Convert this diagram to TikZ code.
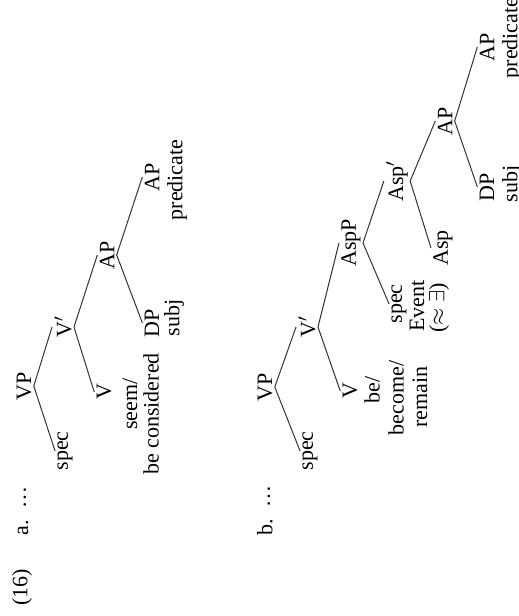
\documentclass[tikz,border=0pt]{standalone}
\usepackage{fontspec}
\setmainfont{Liberation Serif}
\usepackage{tikz}

\begin{document}
\begin{tikzpicture}[
    x=0.5pt, y=-0.5pt,
    font=\fontsize{11pt}{13pt}\selectfont,
    cat/.style={rotate=90, inner sep=1pt},
    branch/.style={draw=black!80, line width=0.5pt},
]
    \useasboundingbox (0,0) rectangle (519,616);
    \clip (0,0) rectangle (519,616);

    % Example number
    \node[cat] (exnum) at (22,587) {(16)};

    % Tree a: seem / be considered
    \node[cat] (alabel) at (23,528) {a.};
    \node[cat] (adots) at (25,497) {\dots};
    \node[cat] (avp) at (24,386) {VP};
    \node[cat] (aspec) at (65,451) {spec};
    \node[cat] (avbar) at (63,327) {V$'$};
    \node[cat] (av) at (104,392) {V};
    \node[cat] (aseem) at (130,404) {seem/};
    \node[cat] (abecons) at (151,414) {be considered};
    \node[cat] (aap) at (107,255) {AP};
    \node[cat] (adp) at (152,323) {DP};
    \node[cat] (asubj) at (174,318) {subj};
    \node[cat] (aappred) at (152,177) {AP};
    \node[cat] (apred) at (177,180) {predicate};

    % Tree b: be / become / remain
    \node[cat] (blabel) at (265,527) {b.};
    \node[cat] (bdots) at (269,496) {\dots};
    \node[cat] (bvp) at (265,387) {VP};
    \node[cat] (bspec) at (310,451) {spec};
    \node[cat] (bvbar) at (307,327) {V$'$};
    \node[cat] (bv) at (350,391) {V};
    \node[cat] (bbe) at (372,390) {be/};
    \node[cat] (bbecome) at (396,398) {become/};
    \node[cat] (bremain) at (420,397) {remain};
    \node[cat] (baspp) at (351,243) {AspP};
    \node[cat] (bspecev) at (399,304) {spec};
    \node[cat] (bevent) at (417,306) {Event};
    \node[cat] (bexists) at (439,308) {($\approx\exists$)};
    \node[cat] (baspbar) at (397,181) {Asp$'$};
    \node[cat] (basp) at (443,248) {Asp};
    \node[cat] (bap) at (445,121) {AP};
    \node[cat] (bdp) at (487,187) {DP};
    \node[cat] (bsubj) at (512,184) {subj};
    \node[cat] (bappred) at (487,47) {AP};
    \node[cat] (bpred) at (512,38) {predicate};

    % Branches of tree a
    \draw[branch] (avp.south) -- (aspec.north);
    \draw[branch] (avp.south) -- (avbar.north);
    \draw[branch] (avbar.south) -- (av.north);
    \draw[branch] (avbar.south) -- (aap.north);
    \draw[branch] (aap.south) -- (adp.north);
    \draw[branch] (aap.south) -- (aappred.north);

    % Branches of tree b
    \draw[branch] (bvp.south) -- (bspec.north);
    \draw[branch] (bvp.south) -- (bvbar.north);
    \draw[branch] (bvbar.south) -- (bv.north);
    \draw[branch] (bvbar.south) -- (baspp.north);
    \draw[branch] (baspp.south) -- (bspecev.north);
    \draw[branch] (baspp.south) -- (baspbar.north);
    \draw[branch] (baspbar.south) -- (basp.north);
    \draw[branch] (baspbar.south) -- (bap.north);
    \draw[branch] (bap.south) -- (bdp.north);
    \draw[branch] (bap.south) -- (bappred.north);
\end{tikzpicture}
\end{document}
